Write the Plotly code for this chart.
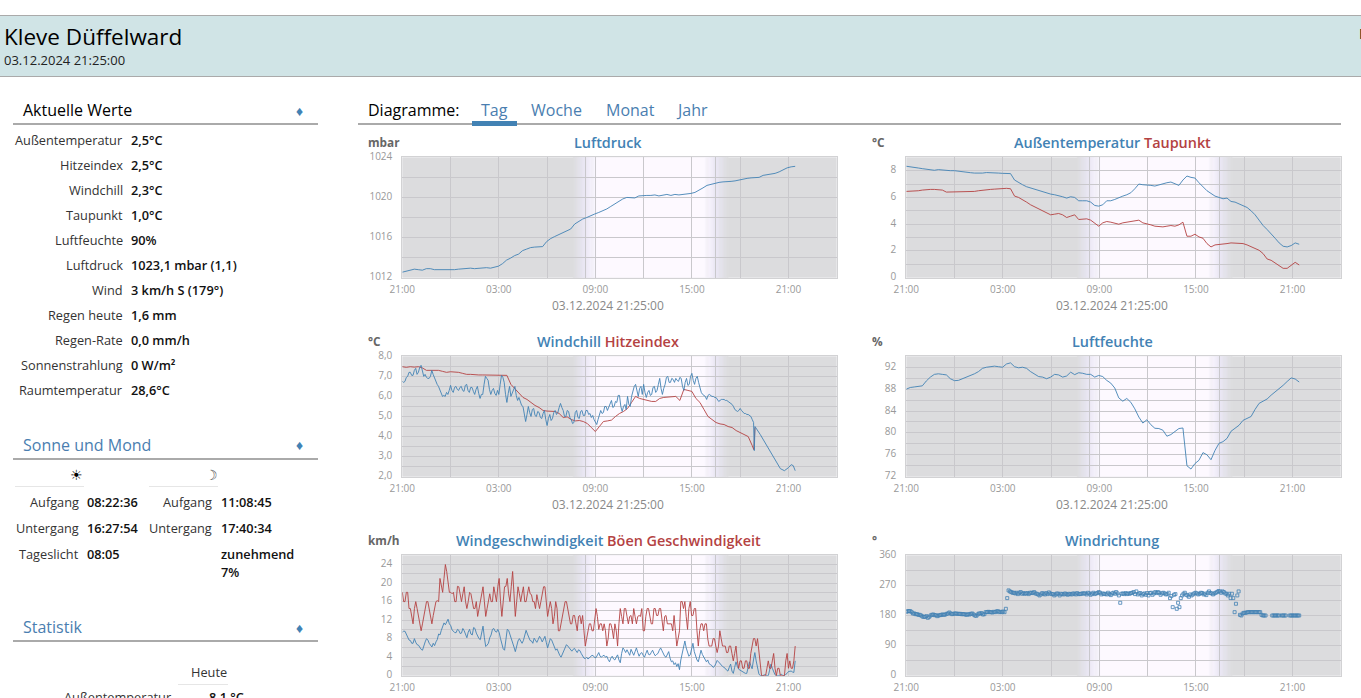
import numpy as np
import plotly.graph_objects as go

W, H = 1361, 698
FONT = "Open Sans"
BLUE = "#4282b4"
RED = "#b44242"
NIGHT = (220, 220, 222)
TWILIGHT = (235, 232, 246)
DAY = (253, 249, 255)

SUNRISE_H = 11.377   # 08:22:36 counted from 21:00
SUNSET_H = 19.465    # 16:27:54 counted from 21:00
LAST_H = 24.42       # 21:25

X_LABELS = {0: "21:00", 3: "", 6: "03:00", 9: "", 12: "09:00", 15: "", 18: "15:00", 21: "", 24: "21:00"}

luftdruck = [
    1012.55,1012.65,1012.8,1012.85,1012.8,1012.75,1012.9,1012.9,1012.8,1012.8,1012.8,1012.75,
    1012.75,1012.8,1012.85,1012.9,1012.95,1012.95,1012.9,1012.95,1013,1013,1012.95,1013.05,
    1013.15,1013.4,1013.75,1013.95,1014.2,1014.35,1014.7,1014.85,1015,1015.05,1015.05,1015.1,
    1015.6,1015.9,1016.1,1016.3,1016.5,1016.7,1016.85,1017.35,1017.6,1017.85,1018,1018.2,
    1018.35,1018.5,1018.65,1018.85,1019.1,1019.35,1019.6,1019.85,1020,1020,1019.95,1020.15,
    1020.2,1020.2,1020.2,1020.25,1020.15,1020.2,1020.3,1020.2,1020.3,1020.25,1020.3,1020.3,
    1020.4,1020.5,1020.7,1020.95,1021.2,1021.3,1021.45,1021.5,1021.55,1021.55,1021.6,1021.65,
    1021.75,1021.8,1021.9,1021.95,1022,1022,1022.2,1022.25,1022.35,1022.4,1022.55,1022.75,
    1022.95,1023.05,1023.1,
]
aussentemperatur = [
    8.33,8.3,8.25,8.2,8.15,8.1,8.03,8.03,8.08,8.05,8.0,8.0,
    8.0,7.95,7.92,7.9,7.85,7.82,7.8,7.82,7.86,7.86,7.84,7.82,
    7.8,7.8,7.78,7.3,7.1,6.95,6.8,6.7,6.6,6.5,6.4,6.3,
    6.25,6.2,6.15,6.05,5.95,6.05,6.0,5.75,5.75,5.75,5.65,5.4,
    5.35,5.45,5.75,5.75,5.85,6.0,6.1,6.2,6.35,6.65,7.0,6.95,
    6.95,6.9,6.85,6.95,7.05,7.1,7.15,7.05,6.9,7.3,7.6,7.5,
    7.45,7.1,6.8,6.5,6.3,6.1,6.0,5.9,5.95,5.7,5.65,5.5,
    5.4,5.25,5.0,4.7,4.3,3.9,3.6,3.3,2.95,2.6,2.35,2.3,
    2.4,2.6,2.5,
]
taupunkt = [
    6.45,6.45,6.5,6.5,6.55,6.6,6.6,6.6,6.6,6.55,6.4,6.4,
    6.4,6.42,6.45,6.45,6.45,6.45,6.5,6.55,6.6,6.6,6.62,6.65,
    6.65,6.68,6.65,6.1,6.0,5.85,5.65,5.45,5.3,5.1,4.95,4.85,
    4.7,4.75,4.8,4.7,4.5,4.6,4.7,4.35,4.38,4.4,4.3,4.05,
    3.85,4.1,4.2,4.15,4.1,4.0,4.1,4.15,4.15,4.2,4.3,4.1,
    4.05,3.95,3.85,3.82,3.8,3.85,3.9,3.85,3.95,4.15,3.1,3.1,
    3.25,3.05,2.95,2.55,2.3,2.45,2.47,2.5,2.55,2.6,2.6,2.6,
    2.55,2.45,2.3,2.2,2.05,1.8,1.4,1.3,1.1,0.95,0.7,0.7,
    0.95,1.15,0.95,
]
luftfeuchte = [
    88.0,88.3,88.4,88.5,88.6,89.5,90.2,90.7,90.8,90.7,90.6,89.9,
    89.55,89.6,89.9,90.2,90.4,90.8,91.2,91.8,92.0,92.1,92.2,92.1,
    92.0,92.6,92.8,92.1,91.9,92.0,91.8,91.2,90.7,90.3,90.2,89.9,
    90.2,90.7,90.6,90.2,90.4,91.1,90.65,91.0,90.9,90.7,90.7,90.2,
    90.5,90.3,89.6,89.1,88.2,86.4,85.8,86.3,85.6,84.4,82.9,81.8,
    82.4,81.5,80.85,80.8,80.5,79.4,79.7,80.3,80.8,80.9,74.0,73.4,
    74.4,75.0,76.4,76.0,75.1,76.8,78.1,78.4,79.0,80.3,80.8,81.4,
    82.3,82.7,83.0,84.3,85.4,85.8,86.2,86.9,87.5,88.0,88.7,89.4,
    90.05,89.85,89.3,
]
hitzeindex = [
    7.48,7.45,7.48,7.46,7.48,7.42,7.3,7.3,7.28,7.3,7.25,7.2,
    7.23,7.23,7.2,7.15,7.1,7.1,7.07,7.07,7.07,7.07,7.07,7.07,
    7.07,7.07,7.05,6.6,6.4,6.2,5.95,5.85,5.7,5.55,5.45,5.3,
    5.27,5.27,5.25,5.15,4.95,4.98,4.85,4.78,4.8,4.75,4.65,4.45,
    4.25,4.5,4.75,4.78,4.82,5.0,5.15,5.25,5.4,5.7,6.0,5.9,
    5.85,5.8,5.75,5.75,5.9,5.95,5.97,6.0,6.0,5.8,6.35,6.3,
    6.25,5.9,5.7,5.35,5.0,4.85,4.7,4.63,4.6,4.5,4.45,4.3,
    4.2,4.1,4.0,3.55,
]
hitzeindex_tail_h = [21.85, 21.92]
hitzeindex_tail = [3.35, 4.45]
windchill = [
    6.75,6.7,6.75,6.95,7.0,7.2,7.2,7.05,7.05,7.3,7.4,7.1,
    7.2,7.45,7.55,7.2,7.0,7.1,6.95,6.9,6.9,7.0,7.3,7.1,
    6.9,6.75,6.6,6.5,6.3,6.15,6.0,6.05,6.0,6.2,6.1,6.3,
    6.55,6.3,6.2,6.45,6.5,6.35,6.3,6.45,6.5,6.3,6.25,6.55,
    6.6,6.3,6.2,6.45,6.45,6.25,6.1,6.35,6.5,6.15,5.9,6.1,
    6.1,6.6,7.0,6.9,6.8,6.35,6.1,6.3,6.4,6.15,6.05,6.3,
    6.1,6.6,7.05,6.95,6.7,6.1,5.7,6.15,6.5,6.0,6.2,6.4,
    6.5,6.05,5.8,5.95,5.75,5.55,5.5,5.1,4.75,5.1,5.5,5.2,
    5.0,5.35,5.4,5.05,5.0,5.25,5.2,4.95,4.9,5.15,5.3,4.85,
    4.55,4.9,5.1,4.8,4.9,5.2,5.3,5.1,5.2,5.45,5.65,5.45,
    5.3,5.0,5.0,5.3,5.25,4.95,4.85,4.65,4.7,5.2,5.3,4.95,
    4.9,5.25,5.3,5.05,5.05,5.3,5.3,5.1,5.15,4.95,5.05,4.85,
    4.7,4.6,4.85,5.1,5.3,5.15,5.2,5.5,5.5,5.3,5.5,5.7,
    5.8,5.45,5.5,5.75,5.7,6.05,6.05,5.5,5.25,5.5,5.6,5.35,
    6.0,5.6,5.5,6.0,6.3,6.5,6.6,6.2,6.0,6.4,6.5,6.1,
    6.6,6.2,5.95,6.2,6.3,6.05,6.1,6.45,6.5,6.2,6.3,6.6,
    6.9,6.4,6.1,6.4,6.6,6.95,7.0,6.7,6.7,6.9,6.85,6.7,
    6.9,6.8,6.75,6.95,6.9,6.5,6.3,6.7,6.9,6.55,6.6,7.0,
    7.15,6.8,6.6,6.9,7.0,6.7,6.4,6.2,6.1,6.05,6.0,5.85,
    6.05,6.1,6.05,6.0,6.0,5.95,5.95,5.85,5.75,5.8,5.85,5.85,
    5.85,5.8,5.8,5.75,5.7,5.65,5.6,5.5,5.35,5.3,5.25,5.3,
    5.4,5.3,5.2,5.15,5.15,5.1,5.1,5.05,5.0,4.85,4.7,
]
windchill_tail_h = [21.88, 21.92, 22.25, 22.5, 22.75, 23.0, 23.25, 23.5, 23.75, 24.0, 24.17, 24.3, 24.42]
windchill_tail = [3.3, 4.5, 4.1, 3.75, 3.45, 3.05, 2.7, 2.4, 2.3, 2.45, 2.6, 2.55, 2.3]
wind = [
    9.4,9.6,9.6,8.9,8.2,7.7,7.6,7.0,7.0,8.0,7.2,6.7,
    6.6,6.1,5.7,5.5,6.6,7.3,8.0,7.7,7.0,6.5,6.2,7.0,
    6.5,7.3,7.8,9.0,8.8,9.8,10.5,11.4,11.0,11.6,12.2,11.2,
    10.8,9.9,9.6,9.3,9.3,10.0,9.8,9.1,9.2,10.2,9.7,8.8,
    8.2,9.4,10.0,9.0,8.8,10.4,10.2,9.2,8.6,8.0,7.8,9.2,
    10.7,8.2,6.3,6.6,7.0,8.2,8.8,10.0,10.2,9.6,9.4,10.0,
    9.3,8.0,7.0,5.8,5.5,8.4,10.0,9.8,9.0,8.0,7.2,6.2,
    5.2,6.6,7.5,8.0,7.3,7.0,7.6,8.6,9.8,9.0,8.3,7.6,
    7.5,7.0,8.1,7.6,7.2,7.8,8.5,8.0,7.3,7.9,8.5,7.2,
    6.0,7.0,8.0,7.7,7.0,6.2,5.5,5.8,5.0,4.4,4.0,4.6,
    5.2,6.0,6.7,6.4,6.0,5.5,5.3,5.7,5.9,5.4,5.0,5.6,
    5.4,4.8,4.2,3.8,3.7,4.0,3.6,3.9,4.0,4.4,4.3,3.9,
    3.9,4.5,5.0,4.2,4.0,4.3,4.4,4.0,4.2,3.5,3.0,3.8,
    4.2,3.6,3.4,4.0,4.5,3.4,2.8,4.8,6.0,5.6,5.0,5.6,
    4.8,4.4,5.7,4.8,4.4,5.2,6.0,5.0,4.2,4.8,5.0,4.4,
    4.0,4.8,5.5,4.6,4.5,5.0,5.5,4.8,4.3,4.6,4.8,5.5,
    6.0,5.4,4.8,4.2,4.0,4.6,5.2,3.8,3.0,3.2,2.4,2.8,
    2.0,2.6,1.3,3.4,5.0,6.4,7.5,6.0,5.0,4.2,4.5,5.8,
    7.0,5.2,4.0,3.4,3.0,4.4,5.5,4.6,4.0,3.4,3.0,3.4,
    2.6,2.4,2.2,1.8,2.0,2.6,3.3,3.0,2.6,2.2,2.0,1.8,
    1.6,1.2,1.0,1.8,2.5,1.0,0.5,1.8,3.0,2.0,1.4,1.2,
    1.0,0.8,0.6,0.5,0.5,1.6,3.0,2.2,1.5,3.4,5.0,3.2,
    2.0,0.4,0,0,0,0.2,0.2,0,0,1.2,2.5,1.6,
    1.0,0.2,0,0,0,0.2,0.3,0,0,0.3,0.5,0.9,
    0.9,1.0,0.8,0.7,3.2,
]
boeen = [
    18,16,16,18,18,14.5,14.5,13,11.2,14.5,16,14.5,
    13,11.2,9.7,11.2,13,14.5,16,16,14.5,13,11.2,13,
    14.5,16,16.2,16,21,19.3,18,21,24,22.5,20,18,
    18,17.7,18,16,16,19.3,19.2,17.7,16,17.7,19.2,16,
    14.5,16,18,17.7,16,14.5,14.5,16,12.8,14.5,16,17.7,
    19.2,16,12.8,14.5,16,17.7,16,16,19.2,17.7,16,19.3,
    21,16,12.8,16,19.2,19.3,21,17.7,16,19.3,22.5,17.7,
    12.8,16,19.2,17.7,16,17.7,19.2,16,16,17.7,19.2,17.7,
    17.5,16,16,14.5,17.5,16,14.5,16,17.5,19.2,19.2,16,
    12.8,14.5,16,14.5,11.2,12.8,16,14.5,9.7,9.7,11.2,12.8,
    14.5,16,16,14.5,13,11.2,11.2,13,13,11.2,9.7,12.8,
    13,11.2,13,9.7,6.4,8,10,11.2,11.2,9.7,9.7,12.8,
    14.5,12.8,10,11.2,11.2,9.7,11.2,9.7,6.4,8,11.2,11.2,
    10,8,11.2,9.7,6.4,11.2,14.5,12.8,11.2,14.5,14.5,12.8,
    11.2,12.8,13,11.2,14.5,12.8,11.2,12.8,13,12.8,14.5,9.7,
    9.7,12.8,14.5,14.5,12.8,11.2,11.2,14.5,14.5,13,13,14.5,
    14.5,11.2,9.7,12.8,13,11.2,11.2,11.2,11.2,9.7,13,9.7,
    6.4,8,9.7,16,16,14.5,16,12.8,10,14.5,16,13,
    13,14.5,14.5,9.7,6.4,9.7,11.2,11.2,9.7,11.2,11.2,8,
    6.4,6.4,6.4,8,8,6.4,5,6.4,9.7,8,6.4,6.4,
    6.4,5,5,6.4,6.4,4.8,3.2,4.8,6.4,3.2,1.6,3.2,
    3.2,1.6,1.6,3.2,3.2,1.6,1.6,4.8,6.4,8,8,6.4,
    8,4.8,1.5,0,0,0,0,1.6,3.2,1.6,1.6,3.2,
    4.8,1.6,0,1.6,1.6,0,0,0,0,3.2,4.8,1.6,
    3.2,1.6,1.6,3.2,6.4,
]
windrichtung = [
    191,193,193,193,190,186,186,184,184,182,182,180,
    177,176,176,178,173,176,180,182,183,181,181,178,
    180,181,182,183,182,183,185,186,189,186,184,185,
    186,186,185,185,185,184,184,184,183,182,184,183,
    185,186,183,180,179,183,186,186,187,183,184,190,
    190,191,190,190,189,191,190,192,193,190,191,190,
    192,190,200,232,255,252,250,248,248,246,248,244,
    248,250,245,247,245,246,247,244,248,248,247,250,
    246,245,243,240,243,247,245,243,247,244,249,246,
    244,244,240,243,246,245,240,245,244,243,246,244,
    242,245,244,243,246,245,243,247,244,244,245,246,
    246,246,243,248,246,242,245,248,244,246,247,250,
    248,243,246,244,245,243,248,244,241,246,248,245,
    250,246,240,218,245,246,244,247,244,246,245,247,
    248,250,244,252,243,246,247,240,244,246,242,247,
    240,247,248,242,246,250,247,250,248,242,246,248,
    246,243,244,248,232,238,205,242,244,200,218,205,
    232,240,245,248,242,240,236,243,240,243,246,248,
    246,243,245,248,247,243,245,241,248,252,247,246,
    243,246,248,250,253,252,248,252,250,246,245,240,
    245,232,245,232,190,215,240,252,182,180,186,188,
    188,189,190,190,190,190,190,190,190,190,190,190,
    182,180,180,180,None,None,None,None,180,180,180,180,
    180,180,None,180,180,180,180,None,None,180,180,180,
    180,180,180,180,180,
]

aktuell_labels = ["Außentemperatur","Hitzeindex","Windchill","Taupunkt","Luftfeuchte","Luftdruck","Wind","Regen heute","Regen-Rate","Sonnenstrahlung","Raumtemperatur"]
aktuell_values = ["2,5°C","2,5°C","2,3°C","1,0°C","90%","1023,1 mbar (1,1)","3 km/h S (179°)","1,6 mm","0,0 mm/h","0 W/m²","28,6°C"]
tabs = ["Tag","Woche","Monat","Jahr"]

# ----- layout geometry (pixels) -----
COL = [(402.3, 836.7, 608), (906.3, 1340.7, 1112)]
ROW = [(157.3, 277.7), (356.3, 476.7), (555.3, 675.7)]

fig = go.Figure()
annotations, shapes, axes = [], [], {}


def px(x): return x / W
def py(y): return 1 - y / H


def text(x, y, s, size=12, color="#222", anchor="left", weight=400):
    annotations.append(dict(x=px(x), y=py(y), xref="paper", yref="paper", text=s, showarrow=False,
                            xanchor=anchor, yanchor="middle", borderpad=0, borderwidth=0,
                            font=dict(family=FONT, size=size, color=color, weight=weight)))


def pixel_rect(x0, y0, x1, y1, color):
    shapes.append(dict(type="rect", xref="paper", yref="paper", x0=px(x0), x1=px(x1), y0=py(y1), y1=py(y0),
                       fillcolor=color, line=dict(width=0), layer="below"))


def mix(a, b, t):
    return "rgb(%d,%d,%d)" % tuple(round(a[i] + (b[i] - a[i]) * t) for i in range(3))


def day_band(axis_n):
    """Night background is plot_bgcolor; this paints dawn, day and dusk as gradient slices."""
    stops = [(10.6, NIGHT), (SUNRISE_H, TWILIGHT), (12.1, DAY), (18.75, DAY), (SUNSET_H, TWILIGHT), (20.25, NIGHT)]
    sfx = "" if axis_n == 1 else str(axis_n)
    for (h0, c0), (h1, c1) in zip(stops[:-1], stops[1:]):
        n = 1 if c0 == c1 else 10
        for k in range(n):
            shapes.append(dict(type="rect", xref="x" + sfx, yref="y" + sfx + " domain",
                               x0=h0 + (h1 - h0) * k / n, x1=h0 + (h1 - h0) * (k + 1) / n + 0.02, y0=0, y1=1,
                               fillcolor=mix(c0, c1, (k + .5) / n), line=dict(width=0), layer="below"))


def chart(n, col, row, unit, title, yrange, ygrid, ylabels, show_date=True):
    x0, x1, cx = COL[col]
    y0, y1 = ROW[row]
    sfx = "" if n == 1 else str(n)
    xvals = list(X_LABELS) + [SUNRISE_H, SUNSET_H]
    xtext = list(X_LABELS.values()) + ["", ""]
    axes["xaxis" + sfx] = dict(domain=[px(x0), px(x1)], anchor="y" + sfx, range=[0, 27], tickmode="array",
                               tickvals=xvals, ticktext=xtext, showgrid=True, gridcolor="#c9c8cc", gridwidth=1,
                               zeroline=False, ticks="outside", ticklen=2, tickcolor="rgba(0,0,0,0)",
                               showline=True, linecolor="#d2d2d4", linewidth=1, mirror=True,
                               tickfont=dict(family=FONT, size=10, color="#999"))
    axes["yaxis" + sfx] = dict(domain=[py(y1), py(y0)], anchor="x" + sfx, range=yrange, tickmode="array",
                               tickvals=ygrid, ticktext=[ylabels.get(v, "") for v in ygrid], showgrid=True,
                               gridcolor="#c9c8cc", gridwidth=1, zeroline=False, ticks="outside", ticklen=7,
                               tickcolor="rgba(0,0,0,0)", showline=True, linecolor="#d2d2d4", linewidth=1, mirror=True,
                               ticklabelshift=-1, tickfont=dict(family=FONT, size=10, color="#999"))
    day_band(n)
    text(368 if col == 0 else 872, y0 - 15.5, unit, size=11.8, color="#666", weight=700)
    text(cx, y0 - 14.5, title, size=14.4, anchor="center", weight=600)
    if show_date:
        text(cx, y1 + 27.5, "03.12.2024 21:25:00", size=12, color="#888", anchor="center")


def span(c, s): return '<span style="color:%s">%s</span>' % (c, s)


def line(n, x, y, color):
    sfx = "" if n == 1 else str(n)
    fig.add_trace(go.Scatter(x=x, y=y, mode="lines", line=dict(color=color, width=0.9), xaxis="x" + sfx, yaxis="y" + sfx,
                             showlegend=False, hoverinfo="skip"))


def hours(values): return np.linspace(0, LAST_H, len(values))


chart(1, 0, 0, "mbar", span(BLUE, "Luftdruck"), [1012, 1024], list(range(1012, 1025, 2)),
      {v: str(v) for v in (1012, 1016, 1020, 1024)})
chart(2, 1, 0, "°C", span(BLUE, "Außentemperatur") + " " + span(RED, "Taupunkt"), [0, 9], list(range(0, 10)),
      {v: str(v) for v in (0, 2, 4, 6, 8)})
chart(3, 0, 1, "°C", span(BLUE, "Windchill") + " " + span(RED, "Hitzeindex"), [2, 8], [2 + .5 * i for i in range(13)],
      {float(v): "%d,0" % v for v in range(2, 9)})
chart(4, 1, 1, "%", span(BLUE, "Luftfeuchte"), [72, 94], list(range(72, 95, 2)),
      {v: str(v) for v in range(72, 93, 4)})
chart(5, 0, 2, "km/h", span(BLUE, "Windgeschwindigkeit") + " " + span(RED, "Böen Geschwindigkeit"), [0, 26],
      list(range(0, 27, 2)), {v: str(v) for v in range(0, 25, 4)}, show_date=False)
chart(6, 1, 2, "°", span(BLUE, "Windrichtung"), [0, 360], list(range(0, 361, 45)),
      {v: str(v) for v in range(0, 361, 90)}, show_date=False)

line(1, hours(luftdruck), luftdruck, BLUE)
line(2, hours(aussentemperatur), aussentemperatur, BLUE)
line(2, hours(taupunkt), taupunkt, RED)
heat_x = list(np.arange(len(hitzeindex)) * 0.25) + hitzeindex_tail_h
line(3, heat_x, hitzeindex + hitzeindex_tail, RED)
chill_x = list(np.arange(len(windchill)) / 12) + windchill_tail_h
line(3, chill_x, windchill + windchill_tail, BLUE)
line(4, hours(luftfeuchte), luftfeuchte, BLUE)
line(5, hours(wind), wind, BLUE)
line(5, hours(boeen), boeen, RED)
fig.add_trace(go.Scatter(x=hours(windrichtung), y=windrichtung, mode="markers", xaxis="x6", yaxis="y6", showlegend=False,
                         hoverinfo="skip", marker=dict(symbol="square-open", size=3, color=BLUE, line=dict(width=0.8, color=BLUE))))

# ----- page chrome -----
pixel_rect(0, 15, W, 76.5, "#d0e4e6")
pixel_rect(0, 15, W, 16, "#aaaaaa")
pixel_rect(0, 76, W, 77, "#aaaaaa")
text(4, 36.5, "Kleve Düffelward", size=22.5, color="#000", weight=500)
text(4, 60, "03.12.2024 21:25:00", size=13, color="#222")
text(1359, 33, "M", size=14, color="#000")

# tabs
pixel_rect(358, 123, 1341, 125, "#aaaaaa")
pixel_rect(472, 121, 517, 126, BLUE)
text(368, 110, "Diagramme:", size=16, color="#000")
for s, x in zip(tabs, (481, 531, 606, 676)):
    text(x, 110, s, size=16, color="#4a7eb0")

# left column
for title, y, col in (("Aktuelle Werte", 110, "#000"), ("Sonne und Mond", 445, "#4a7eb0"), ("Statistik", 627, "#4a7eb0")):
    text(23, y, title, size=16, color=col, weight=500)
    text(299, y, "♦", size=14, color=BLUE, anchor="center")
    pixel_rect(13, y + 13, 318, y + 15, "#aaaaaa")

LBL = dict(size=12.75, color="#333")
VAL = dict(size=12.75, color="#111", weight=600)
for i, (a, b) in enumerate(zip(aktuell_labels, aktuell_values)):
    text(123, 140 + 25 * i, a, anchor="right", **LBL)
    text(131, 140 + 25 * i, b, **VAL)

text(76, 474, "☀", size=14, color="#000", anchor="center")
text(211, 474, "☽", size=14, color="#555", anchor="center")
pixel_rect(15, 486, 84, 487, "#e6e6e6")
pixel_rect(149, 486, 218, 487, "#e6e6e6")
sun_rows = [("Aufgang", "08:22:36", "Aufgang", "11:08:45"), ("Untergang", "16:27:54", "Untergang", "17:40:34"),
            ("Tageslicht", "08:05", "", "zunehmend")]
for i, (a, b, c, d) in enumerate(sun_rows):
    y = 502 + 26 * i
    text(79, y, a, anchor="right", **LBL)
    text(87, y, b, **VAL)
    if c:
        text(212, y, c, anchor="right", **LBL)
    text(221, y, d, **VAL)
text(221, 572, "7%", **VAL)

text(209, 672, "Heute", anchor="center", **LBL)
pixel_rect(178, 684, 228, 685, "#e6e6e6")
text(172, 697, "Außentemperatur", anchor="right", **LBL)
text(209, 697, "8,1 °C", **VAL)

fig.update_layout(width=W, height=H, margin=dict(l=0, r=0, t=0, b=0, autoexpand=False), paper_bgcolor="white",
                  plot_bgcolor="rgb(%d,%d,%d)" % NIGHT, annotations=annotations, shapes=shapes,
                  font=dict(family=FONT), showlegend=False, **axes)
fig.write_html("out.html", config=dict(displayModeBar=False),
               post_script="document.body.style.margin='0';document.body.style.overflow='hidden';")
